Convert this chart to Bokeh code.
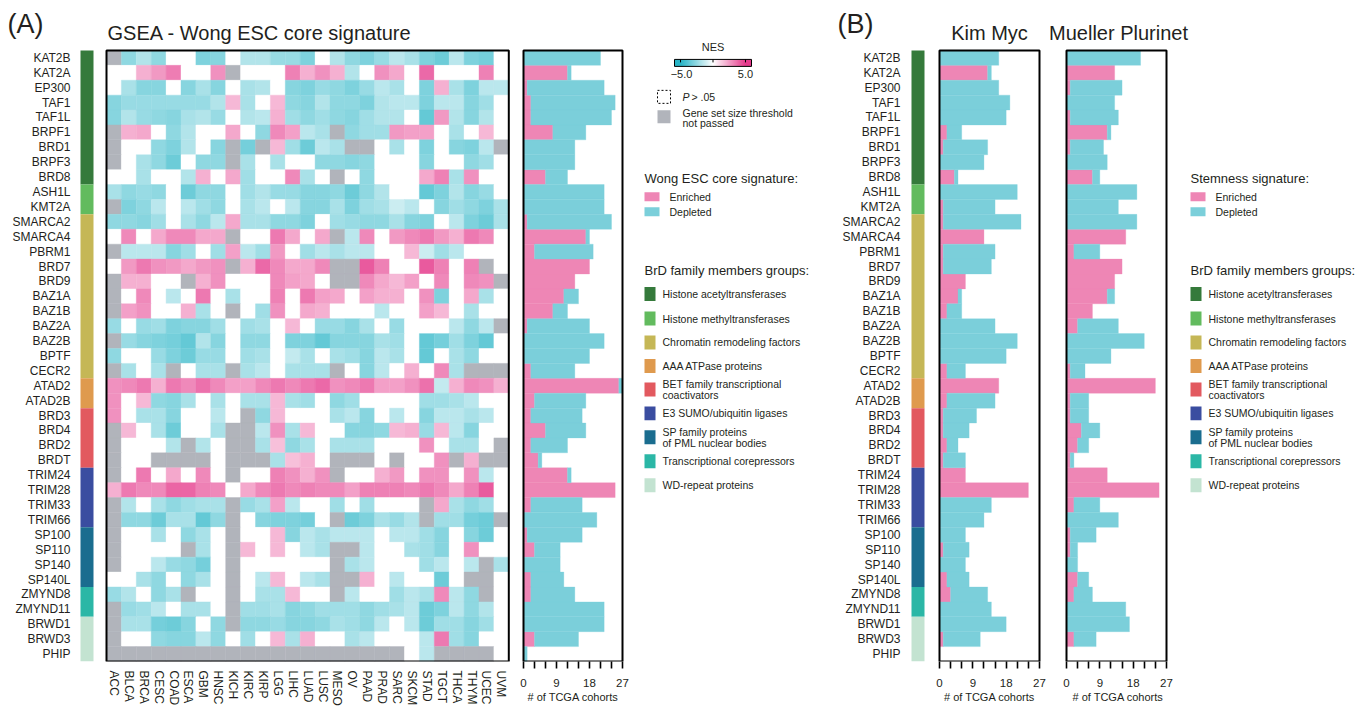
import numpy as np
from bokeh.plotting import figure
from bokeh.models import ColumnDataSource, LinearColorMapper, Range1d, FixedTicker
from bokeh.layouts import row
from bokeh.embed import file_html
from bokeh.resources import INLINE
from bokeh.core.properties import value

N = None

# ---------------- data ----------------
genes = ["KAT2B", "KAT2A", "EP300", "TAF1", "TAF1L", "BRPF1", "BRD1", "BRPF3", "BRD8",
         "ASH1L", "KMT2A",
         "SMARCA2", "SMARCA4", "PBRM1", "BRD7", "BRD9", "BAZ1A", "BAZ1B", "BAZ2A", "BAZ2B", "BPTF", "CECR2",
         "ATAD2", "ATAD2B",
         "BRD3", "BRD4", "BRD2", "BRDT",
         "TRIM24", "TRIM28", "TRIM33", "TRIM66",
         "SP100", "SP110", "SP140", "SP140L",
         "ZMYND8", "ZMYND11",
         "BRWD1", "BRWD3", "PHIP"]

cohorts = ["ACC", "BLCA", "BRCA", "CESC", "COAD", "ESCA", "GBM", "HNSC", "KICH", "KIRC", "KIRP",
           "LGG", "LIHC", "LUAD", "LUSC", "MESO", "OV", "PAAD", "PRAD", "SARC", "SKCM", "STAD",
           "TGCT", "THCA", "THYM", "UCEC", "UVM"]

group_labels = ["Histone acetyltransferases", "Histone methyltransferases", "Chromatin remodeling factors",
                "AAA ATPase proteins", "BET family transcriptional\ncoactivators", "E3 SUMO/ubiquitin ligases",
                "SP family proteins\nof PML nuclear bodies", "Transcriptional corepressors", "WD-repeat proteins"]
group_sizes = [9, 2, 11, 2, 4, 4, 4, 2, 3]
group_colors = ["#357a3b", "#62bb5e", "#c5b756", "#df9a4e", "#e2595f", "#3a4da0", "#1a6d8f", "#2bb7a6", "#c3e3d1"]

# NES per gene (columns = cohorts); 0 = not significant (P > .05), None = threshold not passed
nes_hat = [
    [N, -2.6, -1.8, -2.6, 0, 0, -3.0, -2.8, 0,   -1.8, -1.8, -2.4, -2.4, -3.0, 0, -1.8, -2.6, -3.0,   -2.4, -1.6, -2.0, -3.0, -3.4, -1.6, -3.0, -3.2, 0],
    [0, 0, 2.0, 2.6, 3.3, 0, 0, 2.8, N,   0, 0, 0, 3.2, 2.0, 2.8, 2.0, -1.8, 0,   2.8, 2.2, 0, 3.8, 0, 0, 0, 3.2, 0],
    [0, -2.0, -2.8, -2.8, 0, -2.8, -2.0, -2.8, 0,   -2.0, -1.8, 0, -2.8, -3.0, -2.4, -2.6, -3.0, -2.4,   -1.6, -2.0, 0, -3.0, 2.0, -2.0, -3.0, -1.6, -1.6],
    [-2.8, -2.4, -2.4, -2.4, -2.4, -2.4, -2.4, -1.8, 1.8,   -2.0, 0, 1.8, -2.6, -2.8, -1.8, -2.6, -2.6, -3.0,   -1.8, -1.6, -1.6, -3.0, -1.6, -1.6, -2.8, -2.2, 0],
    [-2.8, -1.8, -2.4, -2.6, -2.8, -2.0, -1.8, -2.4, 0,   -1.8, -1.6, 2.0, -2.2, -2.6, -2.2, -2.6, -2.8, -2.2,   -1.8, -1.8, 0, -3.6, 2.6, -1.8, -2.8, -1.8, 0],
    [N, 2.0, 2.2, 0, -2.6, -1.8, 0, 0, 2.2,   0, -2.6, 3.0, 2.4, -1.6, -2.0, N, -2.6, -2.2,   -2.2, 2.6, 2.4, 2.4, 0, -2.0, 0, 1.8, 0],
    [N, 0, 0, -2.6, -3.0, -1.8, 0, -2.8, N,   -3.2, N, 1.8, -2.2, -3.4, -1.6, -2.0, N, N,   0, -2.0, 0, -3.0, 0, -2.8, -3.0, -1.6, N],
    [N, 0, -2.0, -2.6, -3.4, 0, -2.6, -2.6, N,   -2.0, 0, -2.0, 0, 0, -2.6, -2.6, -2.8, -2.6,   0, 0, 0, -2.8, 0, 0, -2.6, -2.2, 0],
    [0, 0, -2.0, 0, 0, -1.8, 2.0, 0, 2.2,   -2.2, 0, 0, 3.0, -2.0, 0, N, 0, -2.6,   0, 0, 0, 2.2, 3.2, -2.0, 2.8, 0, 0],
]
nes_hmt = [
    [-2.0, -2.6, -2.4, -2.6, 0, -3.4, -2.6, -2.6, 0,   -2.2, -1.8, -2.4, -2.4, -2.8, -2.8, -2.6, -3.4, -2.6,   -1.8, 0, 0, -3.6, -3.0, -1.8, -2.8, -2.4, 0],
    [N, -3.0, -2.6, -1.6, 0, -1.6, -2.2, -2.6, 0,   -2.0, -1.6, 0, -1.6, -2.8, -2.8, -2.0, -3.0, -2.2,   -2.0, -1.2, -1.6, 0, -2.8, -2.2, -2.6, -3.0, -2.0],
]
nes_crf = [
    [-2.6, -2.6, -2.8, -2.2, 0, -2.0, -2.6, -1.6, 2.2,   -2.0, -2.0, -2.6, -2.6, -3.0, 0, -2.2, -2.4, -2.6,   -2.6, -2.0, -2.8, -3.0, 0, -1.6, -3.0, -3.4, -2.0],
    [0, 3.0, 0, 2.2, 3.0, 3.0, 2.2, 2.2, N,   0, 0, 3.4, 2.2, 0, 2.2, N, -1.6, 3.0,   0, 2.6, 3.0, 3.4, 2.6, 2.0, 3.4, 3.0, 0],
    [N, -1.6, -1.6, -1.6, -2.8, -2.2, 0, -2.2, 2.4,   -1.6, -2.2, 2.6, 0, -2.2, -1.6, -2.0, -1.6, -1.6,   0, 0, 1.8, -1.2, -2.2, -1.6, 0, 0, 0],
    [0, 2.6, 3.4, 2.8, 2.6, 2.2, 2.6, 2.8, N,   2.0, 3.8, 3.0, 2.2, 2.2, 3.0, N, N, 4.2,   3.2, 0, 0, 4.2, 3.2, 0, 3.2, N, 0],
    [N, 2.0, 2.0, 0, 0, N, 2.0, 2.8, 0,   0, 0, 3.0, 2.4, 2.2, 0, N, N, 3.0,   2.2, 1.8, 2.4, 0, 3.0, 0, 3.0, 2.8, N],
    [N, 0, 3.0, 0, -1.6, 0, 3.4, 0, -2.0,   0, 0, 3.2, 0, 3.4, 2.4, 2.2, 0, 2.4,   2.0, 2.0, 0, 2.8, -3.0, 0, 2.2, -2.0, 0],
    [N, 2.4, 2.8, 0, 0, 2.0, -2.0, 0, N,   0, -2.2, 2.8, 0, 2.2, 2.0, 0, 0, 0,   -1.6, 0, 0, 2.4, 1.8, 0, -2.0, 0, 0],
    [-2.4, 0, -2.4, -2.2, -3.0, -2.8, -2.8, -2.2, 0,   -2.2, -2.0, 0, 1.8, 0, -2.4, -2.4, -2.8, -2.0,   0, -2.4, 0, 0, 0, -1.6, -2.6, -1.6, N],
    [N, -2.4, -2.8, -3.0, -3.2, -3.6, -1.8, -2.8, 0,   -2.6, -2.6, 0, -3.0, -3.0, -3.6, -2.8, -2.8, -2.8,   -2.0, -2.2, 0, -3.6, -3.2, -2.2, -3.0, -3.6, 0],
    [-2.6, 0, 0, -2.4, -3.0, -3.4, -2.4, -2.4, 0,   -2.2, -2.0, 0, -1.4, -2.0, 0, -2.0, -2.2, -2.8,   -1.6, -2.0, 0, -3.6, 0, -2.0, -2.6, 0, 0],
    [N, -2.0, 0, -2.0, N, 0, -2.0, -2.0, N,   -2.0, -1.6, 0, -2.0, -2.0, -2.0, N, 0, -2.8,   -1.6, 0, 2.0, 0, 3.0, -2.0, N, N, N],
]
nes_aaa = [
    [2.8, 3.0, 3.4, 2.0, 3.4, 3.0, 3.6, 3.0, 2.4,   2.4, 3.0, 3.4, 3.0, 3.4, 3.8, 2.8, 3.0, 3.4,   2.4, 2.4, 2.8, 3.6, -1.4, 2.0, 3.0, 2.8, 2.0],
    [2.8, 0, 1.8, -2.6, -2.8, -2.0, 0, -2.0, 0,   -2.0, -2.0, 1.8, -2.0, -2.2, 0, -2.6, -2.2, 0,   0, 0, 0, -2.2, -2.2, -2.0, -1.6, 0, 0],
]
nes_bet = [
    [2.8, 0, -2.0, -2.0, -2.8, 0, 0, -1.6, 0,   N, -2.6, 1.8, 0, 0, 0, -2.0, -1.6, -2.8,   0, -1.6, 0, -2.8, -1.6, -1.6, -2.0, -1.6, 0],
    [N, 1.8, 0, -2.0, -3.4, 0, 0, -2.0, N,   N, -1.6, 2.8, -2.0, 1.8, 0, 0, -2.8, -2.8,   -2.6, 1.8, 2.0, -2.4, 1.8, -1.6, -2.8, 0, 0],
    [N, 0, 0, 0, -1.8, N, -1.8, 0, N,   N, -2.0, 1.6, -2.6, -2.0, 0, -2.0, -2.0, -2.0,   0, 0, 0, 2.8, 0, -2.0, -2.0, 0, N],
    [N, 0, 0, N, N, N, N, 0, N,   N, N, -2.0, 1.6, 2.0, 0, N, N, N,   0, N, 0, 0, 2.8, N, 2.0, N, N],
]
nes_e3 = [
    [N, 0, 3.4, 0, 2.2, 0, 3.0, 0, N,   0, 0, 3.2, 2.8, 2.0, 2.8, N, 0, 0,   2.0, 2.6, 0, 2.8, 2.8, 0, 2.8, -1.6, 0],
    [2.0, 3.4, 3.0, 3.0, 3.9, 3.9, 3.2, 3.0, 0,   2.2, 3.0, 3.4, 3.0, 3.2, 3.0, 3.0, 2.4, 3.2,   3.2, 3.2, 3.0, 3.4, 3.0, 2.2, 3.2, 4.2, 0],
    [N, -1.8, 0, -2.0, -2.6, -2.2, -2.0, -2.0, N,   -2.4, -2.0, 2.4, -1.6, 0, 0, -2.2, 0, -2.2,   0, 0, 0, N, 2.2, -2.0, -2.6, -2.2, 0],
    [N, -2.6, -2.6, -3.4, -2.0, -2.0, -3.6, -2.6, N,   0, -2.8, -3.0, -3.0, -3.2, 0, N, -3.4, -3.0,   -2.0, -2.4, -1.8, N, -2.2, -2.2, -3.2, -3.4, N],
]
nes_sp = [
    [N, 0, 0, -2.0, 0, -2.6, -2.0, 0, N,   0, 0, 1.8, -2.8, -1.6, -2.0, -1.6, -1.6, -1.6,   0, -1.6, -1.6, -2.2, -2.8, 0, -2.8, -3.4, 0],
    [N, 0, 0, 0, 0, N, -2.0, 0, N,   1.8, 0, 1.8, 0, -1.6, -2.0, N, N, -1.6,   0, 0, -2.0, -2.2, -2.8, 0, 2.8, 0, 0],
    [N, 0, 0, -1.6, -2.4, -2.6, -3.2, 0, N,   0, 0, 0, 0, 0, 0, N, -2.0, -1.6,   0, 0, 0, -2.2, -1.6, 0, -1.6, N, -2.0],
    [0, 0, -2.0, -2.6, 0, -2.6, -2.0, 0, N,   0, -1.6, 1.8, 0, -1.6, -2.0, N, N, 2.0,   0, -1.6, 0, 0, -3.4, 0, N, N, 0],
]
nes_tc = [
    [-2.4, -1.8, 0, -2.6, -2.0, N, 0, 0, N,   0, -2.0, -2.0, 1.8, 0, 0, N, -1.6, 0,   0, -2.2, -1.6, -2.0, 3.0, -1.6, -2.6, N, 0],
    [N, -2.4, -2.2, -1.6, 0, -2.0, -2.0, 0, N,   -2.2, -2.2, -2.0, -2.8, -2.6, -2.2, -2.2, -2.2, -2.6,   -2.2, -2.0, -1.6, -3.4, -3.0, -1.6, -2.6, -1.8, 0],
]
nes_wd = [
    [N, -2.0, -2.0, -3.2, -3.4, -2.8, 0, -2.6, N,   -2.6, -2.6, -2.4, -2.8, -2.8, -2.6, -2.0, -2.2, -2.6,   -1.6, 0, -1.6, -3.4, -2.2, -2.2, -2.8, -2.2, 0],
    [N, 0, 0, -2.6, -2.8, -2.8, -1.6, -2.6, 0,   -2.2, 0, 1.8, -2.0, 2.0, 0, 0, -2.0, -1.6,   0, 0, 0, -1.6, 3.4, -2.2, -2.8, 0, 0],
    [N, N, N, N, N, N, N, N, N,   N, N, N, N, N, N, N, N, N,   N, N, 0, -1.6, N, N, N, N, 0],
]

# number of TCGA cohorts with significant enrichment / depletion (per gene)
wong_enriched = [0, 12, 1, 2, 2, 8, 0, 0, 6, 0, 0, 1, 17, 3, 18, 14, 11, 8, 1, 0, 0, 2, 26, 3, 2, 6, 2, 4, 12, 25, 2, 0, 1, 3, 0, 2, 2, 0, 0, 3, 0]
wong_depleted = [21, 1, 21, 23, 22, 9, 14, 14, 6, 22, 22, 23, 1, 16, 0, 0, 4, 4, 17, 22, 18, 12, 1, 14, 14, 11, 10, 1, 1, 0, 14, 20, 15, 7, 10, 9, 12, 22, 22, 12, 1]
kim_enriched = [0, 13, 0, 0, 0, 2, 1, 0, 4, 0, 1, 1, 12, 1, 1, 7, 5, 2, 0, 0, 0, 2, 16, 2, 1, 1, 2, 1, 7, 24, 0, 0, 0, 1, 0, 2, 3, 0, 0, 1, 0]
kim_depleted = [16, 1, 16, 19, 18, 4, 12, 12, 1, 21, 14, 21, 0, 14, 13, 0, 1, 4, 15, 21, 18, 5, 0, 13, 9, 7, 3, 6, 0, 0, 14, 12, 7, 7, 7, 6, 10, 14, 18, 10, 0]
mueller_enriched = [0, 13, 1, 0, 1, 11, 1, 0, 7, 0, 0, 0, 16, 2, 15, 13, 11, 7, 3, 0, 0, 1, 24, 1, 1, 4, 3, 1, 11, 25, 2, 0, 1, 1, 0, 3, 2, 0, 0, 2, 0]
mueller_depleted = [20, 0, 14, 13, 13, 1, 9, 11, 2, 19, 14, 19, 0, 7, 0, 0, 2, 0, 11, 21, 12, 4, 0, 5, 5, 5, 3, 1, 0, 0, 7, 14, 7, 2, 3, 3, 5, 16, 17, 6, 0]

nes_ticks = [-5.0, 5.0]
cohort_ticks = [0, 9, 18, 27]
cohort_minor = [3, 6, 12, 15, 21, 24]

# ---------------- styling ----------------
FONT = "Liberation Sans"
TXT = "#231f20"
PINK = "#ee86b5"
CYAN = "#7bcfda"
GREY = "#b1b4bb"
NEG_END = (40, 180, 198)
POS_END = (229, 58, 140)

H = 708
TOP, BOT = 50, 662
NROW = len(genes)
RH = (BOT - TOP) / NROW


def ypx(p):
    return -0.5 + (p - TOP) / RH


def nes_palette(n=201):
    out = []
    for k in range(n):
        v = -1 + 2 * k / (n - 1)
        end = NEG_END if v < 0 else POS_END
        t = abs(v)
        c = [int(round(255 + t * (e - 255))) for e in end]
        out.append("#%02x%02x%02x" % tuple(c))
    return out


mapper = LinearColorMapper(palette=nes_palette(), low=-5, high=5, nan_color=GREY)


def base_fig(width, x_range, y_range, axes=False):
    # every frame spans canvas rows 0..662 (bottom border 46 shared by the row layout)
    kw = dict(width=width, height=H, x_range=x_range, y_range=y_range,
              output_backend="svg", toolbar_location=None,
              min_border_left=0, min_border_right=0, min_border_top=0, min_border_bottom=H - BOT,
              y_axis_location=None)
    if not axes:
        kw["x_axis_location"] = None
    f = figure(**kw)
    f.grid.visible = False
    f.outline_line_color = None
    f.background_fill_color = "white"
    f.border_fill_color = "white"
    return f


def add_text(f, xs, ys, texts, size, align="left", baseline="middle", style="normal", angle=0.0, color=TXT):
    src = ColumnDataSource(dict(x=list(xs), y=list(ys), t=list(texts)))
    f.text(x="x", y="y", text="t", source=src, angle=angle,
           text_font=value(FONT), text_font_size=value(f"{size}px"),
           text_align=align, text_baseline=baseline, text_font_style=style, text_color=color)


starts = np.cumsum([0] + group_sizes[:-1])
g_tops = [s - 0.5 for s in starts]
g_bots = [s + n - 0.5 for s, n in zip(starts, group_sizes)]

# ---------------- (A) heatmap ----------------
CW = 14.9
HX0 = 106


def xcol(p):
    return -0.5 + (p - HX0) / CW


f1 = base_fig(516, Range1d(xcol(0), xcol(516)), Range1d(NROW - 0.5, ypx(0)), axes=True)
nes_rows = nes_hat + nes_hmt + nes_crf + nes_aaa + nes_bet + nes_e3 + nes_sp + nes_tc + nes_wd
hx, hy, hv = [], [], []
for i, r in enumerate(nes_rows):
    for j, v in enumerate(r):
        hx.append(j)
        hy.append(i)
        hv.append(np.nan if v is None else v)
hsrc = ColumnDataSource(dict(x=hx, y=hy, v=hv))
f1.rect(x="x", y="y", width=1, height=1, source=hsrc,
        fill_color={"field": "v", "transform": mapper},
        line_color={"field": "v", "transform": mapper}, line_width=0.4)
f1.quad(left=-0.5, right=len(cohorts) - 0.5, top=-0.5, bottom=NROW - 0.5,
        fill_color=None, line_color="black", line_width=2)
f1.quad(left=xcol(80), right=xcol(93), top=g_tops, bottom=g_bots, fill_color=group_colors, line_color=None)
add_text(f1, [xcol(70)] * NROW, list(range(NROW)), genes, 12, align="right")
add_text(f1, [xcol(7)], [ypx(24)], ["(A)"], 27)
add_text(f1, [xcol(107)], [ypx(33)], ["GSEA - Wong ESC core signature"], 20)
ax1 = f1.xaxis[0]
ax1.ticker = FixedTicker(ticks=list(range(len(cohorts))), minor_ticks=[])
ax1.major_label_overrides = {j: c for j, c in enumerate(cohorts)}
ax1.major_label_orientation = "vertical"
ax1.axis_line_color = None
ax1.major_tick_line_color = None
ax1.minor_tick_line_color = None
ax1.major_tick_in = 0
ax1.major_tick_out = 0
ax1.major_label_standoff = 9
ax1.major_label_text_font = FONT
ax1.major_label_text_font_size = "12px"
ax1.major_label_text_color = TXT


# ---------------- bar panels ----------------
def bar_fig(c_left, c_right, x0, x27, enr, dep, title=None, title_px=None):
    u = 27.0 / (x27 - x0)
    f = base_fig(c_right - c_left, Range1d((c_left - x0) * u, (c_right - x0) * u),
                 Range1d(NROW - 0.5, ypx(0)), axes=True)
    rows_i = list(range(NROW))
    pe = [(i, e) for i, e in zip(rows_i, enr) if e > 0]
    pd_ = [(i, e, d) for i, e, d in zip(rows_i, enr, dep) if d > 0]
    f.hbar(y=[p[0] for p in pe], left=0, right=[p[1] for p in pe], height=1,
           fill_color=PINK, line_color=PINK, line_width=0.3)
    f.hbar(y=[p[0] for p in pd_], left=[p[1] for p in pd_], right=[p[1] + p[2] for p in pd_], height=1,
           fill_color=CYAN, line_color=CYAN, line_width=0.3)
    f.quad(left=0, right=27, top=-0.5, bottom=NROW - 0.5, fill_color=None, line_color="black", line_width=2)
    ax = f.xaxis[0]
    ax.ticker = FixedTicker(ticks=cohort_ticks, minor_ticks=cohort_minor)
    ax.axis_line_color = None
    ax.major_tick_in = 0
    ax.major_tick_out = 7
    ax.minor_tick_in = 0
    ax.minor_tick_out = 7
    ax.major_tick_line_width = 1.6
    ax.minor_tick_line_width = 1.6
    ax.major_tick_line_color = "black"
    ax.minor_tick_line_color = "black"
    ax.major_label_text_font = FONT
    ax.major_label_text_font_size = "11.5px"
    ax.major_label_text_color = TXT
    ax.major_label_standoff = 10
    ax.axis_label = "# of TCGA cohorts"
    ax.axis_label_text_font = FONT
    ax.axis_label_text_font_size = "11px"
    ax.axis_label_text_font_style = "normal"
    ax.axis_label_text_color = TXT
    ax.axis_label_standoff = 1
    if title:
        add_text(f, [(title_px - x0) * u], [ypx(33)], [title], 20, align="center")
    return f


f2 = bar_fig(516, 629, 523, 622, wong_enriched, wong_depleted)
f5 = bar_fig(932, 1046, 939, 1039, kim_enriched, kim_depleted, "Kim Myc", 989)
f6 = bar_fig(1046, 1189, 1066, 1166, mueller_enriched, mueller_depleted, "Mueller Plurinet", 1118)


# ---------------- legends ----------------
def sig_and_groups(f, x0, header):
    add_text(f, [x0], [178], [header], 13)
    f.quad(left=x0, right=x0 + 15, top=[192, 207], bottom=[201, 216], fill_color=[PINK, CYAN], line_color=None)
    add_text(f, [x0 + 25, x0 + 25], [196.5, 211.5], ["Enriched", "Depleted"], 10.5)
    add_text(f, [x0], [270], ["BrD family members groups:"], 13)
    centers = [294, 318.5, 342.5, 366, 389.5, 413.5, 437.5, 461.5, 485.5]
    f.quad(left=x0, right=x0 + 11, top=[c - 7 for c in centers], bottom=[c + 7 for c in centers],
           fill_color=group_colors, line_color=None)
    tx, ty, tt = [], [], []
    for c, lab in zip(centers, group_labels):
        lines = lab.split("\n")
        if len(lines) == 1:
            tx.append(x0 + 18); ty.append(c); tt.append(lines[0])
        else:
            tx += [x0 + 18, x0 + 18]; ty += [c - 5.5, c + 5.5]; tt += lines
    add_text(f, tx, ty, tt, 10.5)


f3 = base_fig(201, Range1d(629, 830), Range1d(BOT, 0))
add_text(f3, [712.5], [47], ["NES"], 11, align="center")
f3.image(image=[np.linspace(-5.92, 5.92, 300).reshape(1, -1)], x=674, y=59, dw=77, dh=7, color_mapper=mapper)
f3.quad(left=674, right=751, top=59, bottom=66, fill_color=None, line_color="black", line_width=1)
f3.segment(x0=[680, 712.5, 745], y0=59, x1=[680, 712.5, 745], y1=62, line_color="black", line_width=1)
add_text(f3, [681, 745], [74, 74], ["\u2212%.1f" % abs(nes_ticks[0]), "%.1f" % nes_ticks[1]], 11, align="center")
f3.quad(left=657, right=670, top=90, bottom=103, fill_color=None, line_color="black", line_width=1, line_dash="2 2")
add_text(f3, [682], [97], ["P"], 10.5, style="italic")
add_text(f3, [691], [97], ["> .05"], 10.5)
f3.quad(left=657, right=670, top=110, bottom=123, fill_color=GREY, line_color=None)
add_text(f3, [682, 682], [113, 123], ["Gene set size threshold", "not passed"], 10.5)
sig_and_groups(f3, 644, "Wong ESC core signature:")

f4 = base_fig(102, Range1d(830, 932), Range1d(NROW - 0.5, ypx(0)))
f4.quad(left=911, right=924, top=g_tops, bottom=g_bots, fill_color=group_colors, line_color=None)
add_text(f4, [900] * NROW, list(range(NROW)), genes, 12, align="right")
add_text(f4, [837], [ypx(24)], ["(B)"], 27)

f7 = base_fig(168, Range1d(1189, 1357), Range1d(BOT, 0))
sig_and_groups(f7, 1190, "Stemness signature:")

layout = row(f1, f2, f3, f4, f5, f6, f7, spacing=0)
open("out.html", "w").write(file_html(layout, INLINE))
